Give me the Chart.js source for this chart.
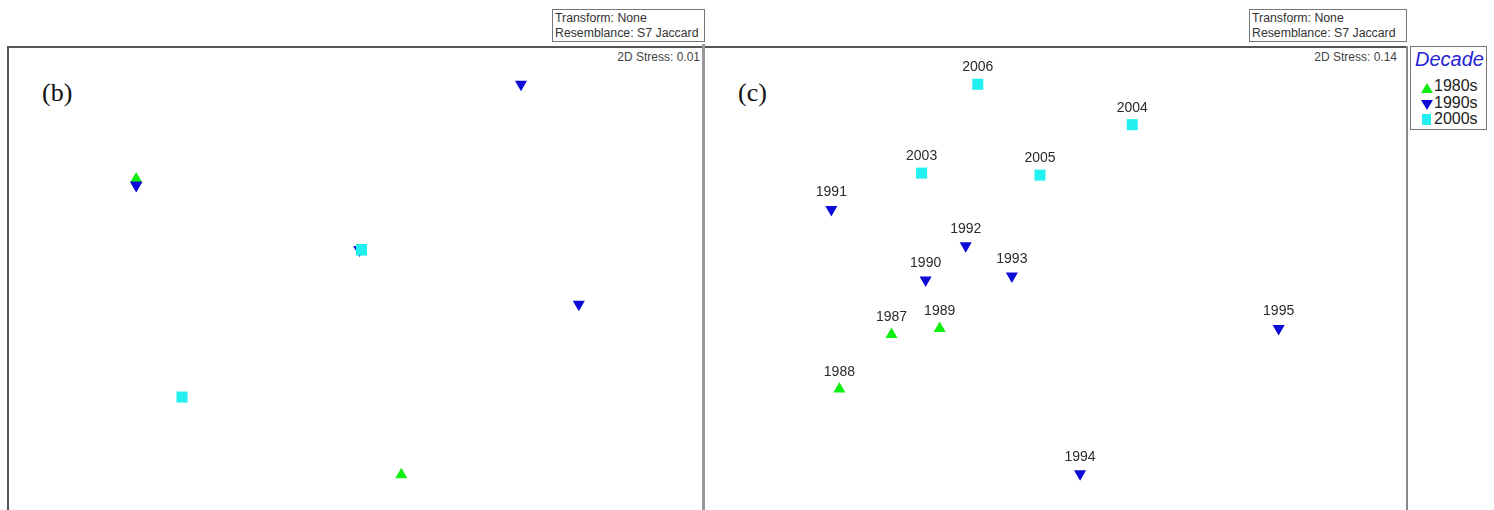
<!DOCTYPE html>
<html lang="en">
<head>
<meta charset="UTF-8">
<title>nMDS ordination by decade</title>
<script src="https://cdn.jsdelivr.net/npm/chart.js"></script>
<style>
  body { margin: 0; width: 1494px; height: 510px; overflow: hidden; background: #fff;
         position: relative; font-family: "Liberation Sans", Arial, sans-serif; }
  .info { position: absolute; top: 9px; height: 33px; border: 1px solid #777; box-sizing: border-box;
          font-size: 12.3px; line-height: 14.5px; color: #333; padding: 1px 0 0 2px; white-space: nowrap; }
  .stress { position: absolute; top: 50px; font-size: 12px; color: #444; text-align: right; }
  .tag { position: absolute; top: 78px; font-family: "Liberation Serif", "DejaVu Serif", serif; font-size: 26px; color: #111; }
  .line { position: absolute; }
  canvas { position: absolute; }
  #legend { position: absolute; left: 1410px; top: 46px; width: 77px; height: 84px; border: 1px solid #777; box-sizing: border-box; }
  #legend .title { position: absolute; left: 4px; top: 1px; font-style: italic; font-size: 20px; color: #2424d2; }
  #legend .item { position: absolute; left: 23px; font-size: 16px; color: #222; }
  .mk { position: absolute; width: 0; height: 0; }
</style>
</head>
<body>
  <!-- panel frames -->
  <div class="line" style="left:7px; top:46px; width:697px; height:2px; background:#555;"></div>
  <div class="line" style="left:7px; top:46px; width:2px; height:470px; background:#555;"></div>
  <div class="line" style="left:702px; top:44px; width:3px; height:470px; background:#999;"></div>
  <div class="line" style="left:705px; top:46px; width:702px; height:2px; background:#555;"></div>
  <div class="line" style="left:1406px; top:46px; width:2px; height:470px; background:#888;"></div>

  <div class="info" style="left:552px; width:153px;">Transform: None<br>Resemblance: S7 Jaccard</div>
  <div class="info" style="left:1249px; width:158px;">Transform: None<br>Resemblance: S7 Jaccard</div>

  <div class="stress" style="left:560px; width:140px;">2D Stress: 0.01</div>
  <div class="stress" style="left:1257px; width:140px;">2D Stress: 0.14</div>

  <div class="tag" style="left:42px;">(b)</div>
  <div class="tag" style="left:738px;">(c)</div>

  <canvas id="chartB" width="693" height="462" style="left:9px; top:48px;"></canvas>
  <canvas id="chartC" width="700" height="462" style="left:706px; top:48px;"></canvas>

  <div id="legend">
    <div class="title">Decade</div>
    <div class="mk" style="left:10px; top:36px; border-left:6px solid transparent; border-right:6px solid transparent; border-bottom:10px solid #11ee11;"></div>
    <div class="item" style="top:30px;">1980s</div>
    <div class="mk" style="left:10px; top:53px; border-left:6px solid transparent; border-right:6px solid transparent; border-top:10px solid #0c0cd6;"></div>
    <div class="item" style="top:47px;">1990s</div>
    <div class="mk" style="left:11px; top:67px; width:9px; height:11px; background:#22f0f0;"></div>
    <div class="item" style="top:63px;">2000s</div>
  </div>

<script>
// samples and their decade
const years   = ['1987', '1988', '1989', '1990', '1991', '1992', '1993', '1994', '1995', '2003', '2004', '2005', '2006'];
const decades = ['1980s', '1980s', '1980s', '1990s', '1990s', '1990s', '1990s', '1990s', '1990s', '2000s', '2000s', '2000s', '2000s'];

// ordination (b): many samples sit on top of each other
const bX = [-1.10, 0.23, -1.10, -1.10, 0.83, 0.02, 1.12, -1.10, 0.02, 0.03, -0.87, 0.03, 0.03];
const bY = [0.44, -1.025, 0.44, 0.41, 0.91, 0.09, -0.18, 0.41, 0.09, 0.09, -0.64, 0.09, 0.09];

// ordination (c)
const cX = [-0.82, -1.08, -0.58, -0.65, -1.12, -0.45, -0.22, 0.12, 1.11, -0.67, 0.38, -0.08, -0.39];
const cY = [-0.33, -0.60, -0.30, -0.06, 0.29, 0.11, -0.04, -1.02, -0.30, 0.47, 0.71, 0.46, 0.91];

const decadeNames = ['1980s', '1990s', '2000s'];
const decadeColors = { '1980s': '#11ee11', '1990s': '#0c0cd6', '2000s': '#22f0f0' };
const decadeShapes = { '1980s': ['triangle', 0, 7], '1990s': ['triangle', 180, 7], '2000s': ['rect', 0, 7.8] };
// higher order is drawn first, so squares end up on top
const decadeOrder = { '1980s': 3, '1990s': 2, '2000s': 1 };

function buildDatasets(xs, ys) {
  return decadeNames.map(d => {
    const pts = [];
    years.forEach((yr, i) => {
      if (decades[i] === d) pts.push({ x: xs[i], y: ys[i], label: yr });
    });
    const [style, rot, r] = decadeShapes[d];
    return {
      label: d,
      data: pts,
      order: decadeOrder[d],
      pointStyle: style,
      rotation: rot,
      radius: r,
      backgroundColor: decadeColors[d],
      borderColor: decadeColors[d],
      borderWidth: 0
    };
  });
}

// year labels above every point
const yearLabels = {
  id: 'yearLabels',
  afterDatasetsDraw(chart) {
    const ctx = chart.ctx;
    ctx.save();
    ctx.font = '14px "Liberation Sans", Arial, sans-serif';
    ctx.fillStyle = '#2a2a2a';
    ctx.textAlign = 'center';
    ctx.textBaseline = 'alphabetic';
    chart.data.datasets.forEach((ds, di) => {
      chart.getDatasetMeta(di).data.forEach((pt, i) => {
        ctx.fillText(ds.data[i].label, pt.x, pt.y - 13);
      });
    });
    ctx.restore();
  }
};

function makeChart(id, xs, ys, xr, plugins) {
  return new Chart(document.getElementById(id), {
    type: 'scatter',
    data: { datasets: buildDatasets(xs, ys) },
    options: {
      responsive: false,
      animation: false,
      layout: { padding: 0, autoPadding: false },
      scales: {
        x: { display: false, min: -xr, max: xr },
        y: { display: false, min: -1.2, max: 1.09 }
      },
      plugins: { legend: { display: false }, tooltip: { enabled: false } }
    },
    plugins: plugins
  });
}

makeChart('chartB', bX, bY, 1.738, []);
makeChart('chartC', cX, cY, 1.745, [yearLabels]);
</script>
</body>
</html>
